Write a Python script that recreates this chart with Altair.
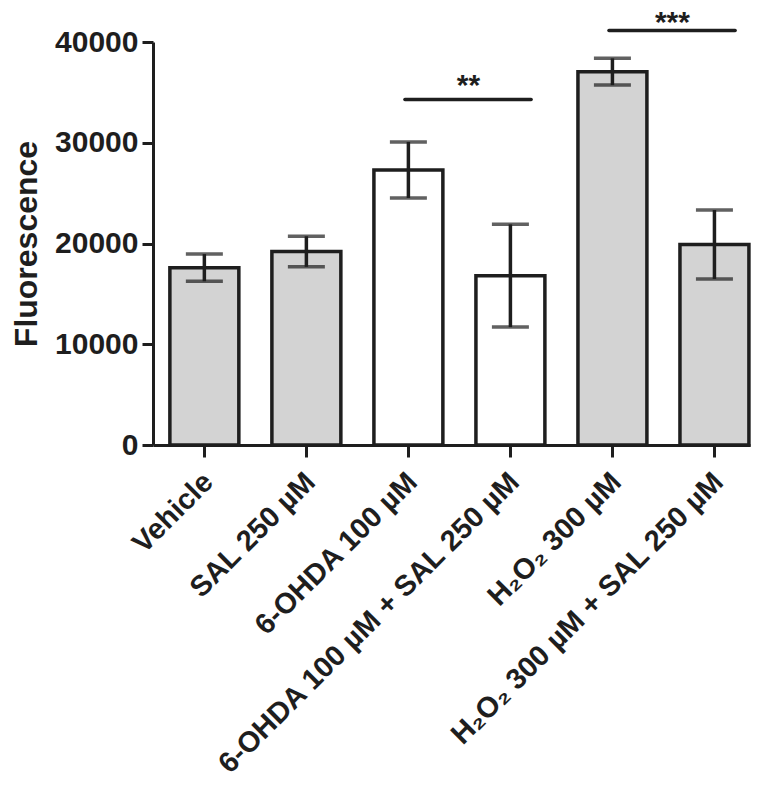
import altair as alt
import pandas as pd

categories = ["Vehicle", "SAL 250 µM", "6-OHDA 100 µM", "6-OHDA 100 µM + SAL 250 µM",
              "H₂O₂ 300 µM", "H₂O₂ 300 µM + SAL 250 µM"]
means = [17600, 19200, 27300, 16800, 37050, 19900]
errors = [1350, 1520, 2780, 5100, 1330, 3420]
fills = ["#d3d3d3", "#d3d3d3", "#ffffff", "#ffffff", "#d3d3d3", "#d3d3d3"]

sig_start = ["6-OHDA 100 µM", "H₂O₂ 300 µM"]
sig_end = ["6-OHDA 100 µM + SAL 250 µM", "H₂O₂ 300 µM + SAL 250 µM"]
sig_y = [34300, 41150]
sig_text_y = [34700, 41000]
sig_labels = ["**", "***"]

df = pd.DataFrame({"cat": categories, "mean": means, "err": errors, "fill": fills})
df["lo"] = df["mean"] - df["err"]
df["hi"] = df["mean"] + df["err"]

sig = pd.DataFrame({"start": sig_start, "end": sig_end, "y": sig_y,
                    "ty": sig_text_y, "label": sig_labels})

FONT = "Liberation Sans"
INK = "#1e1e1e"

xscale = alt.Scale(domain=categories, paddingInner=0.324, paddingOuter=0.088, align=0.94)
yscale = alt.Scale(domain=[0, 40000], nice=False, zero=True)

x = alt.X("cat:N", scale=xscale, sort=categories,
          axis=alt.Axis(title=None, labelAngle=-45, labelAlign="right", labelBaseline="middle",
                        labelFont=FONT, labelFontSize=29, labelFontWeight="bold", labelColor=INK,
                        labelPadding=20, labelOffset=4, labelLimit=600,
                        domainColor=INK, domainWidth=3, tickColor=INK, tickWidth=3, tickSize=12,
                        grid=False))
y = alt.Y("mean:Q", scale=yscale,
          axis=alt.Axis(title="Fluorescence", values=[0, 10000, 20000, 30000, 40000], format="d",
                        labelFont=FONT, labelFontSize=30, labelFontWeight="bold", labelColor=INK,
                        labelPadding=4,
                        titleFont=FONT, titleFontSize=32, titleFontWeight="bold", titleColor=INK,
                        titlePadding=11,
                        domainColor=INK, domainWidth=3, tickColor=INK, tickWidth=3, tickSize=11,
                        grid=False))

bars = alt.Chart(df).mark_bar(stroke=INK, strokeWidth=3.5, clip=False).encode(
    x=x, y=y, fill=alt.Fill("fill:N", scale=None))

err_rule = alt.Chart(df).mark_rule(color=INK, strokeWidth=3.5).encode(
    x=alt.X("cat:N", scale=xscale, sort=categories), y=alt.Y("lo:Q", scale=yscale), y2="hi:Q")
cap_hi = alt.Chart(df).mark_tick(color=INK, thickness=3.5, size=37).encode(
    x=alt.X("cat:N", scale=xscale, sort=categories), y=alt.Y("hi:Q", scale=yscale))
cap_lo = alt.Chart(df).mark_tick(color=INK, thickness=3.5, size=37).encode(
    x=alt.X("cat:N", scale=xscale, sort=categories), y=alt.Y("lo:Q", scale=yscale))

sig_rule = alt.Chart(sig).mark_rule(color=INK, strokeWidth=3.5, clip=False, strokeCap="round").encode(
    x=alt.X("start:N", scale=xscale, bandPosition=0.45),
    x2=alt.X2("end:N", bandPosition=0.8),
    y=alt.Y("y:Q", scale=yscale))
sig_text = alt.Chart(sig).mark_text(font=FONT, fontSize=30, fontWeight="bold", color=INK,
                                    baseline="alphabetic", clip=False, dx=60).encode(
    x=alt.X("start:N", scale=xscale),
    y=alt.Y("ty:Q", scale=yscale),
    text="label:N")

chart = alt.layer(bars, err_rule, cap_hi, cap_lo, sig_rule, sig_text).properties(
    width=597, height=403,
    autosize=alt.AutoSizeParams(type="none"),
    padding={"left": 145, "top": 34, "right": 10, "bottom": 342},
).configure(background="white").configure_view(strokeWidth=0, stroke=None)

chart.save("out.html", embed_options={"renderer": "svg", "actions": False})
